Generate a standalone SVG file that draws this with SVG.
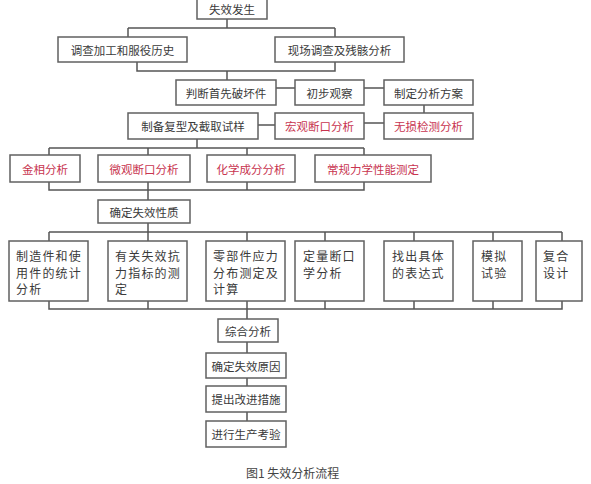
<svg xmlns="http://www.w3.org/2000/svg" width="591" height="484" viewBox="0 0 591 484">
<style>
rect.b{fill:#fff;stroke:#606060;stroke-width:1.5}
text{font-family:"Noto Sans CJK SC","Noto Sans",sans-serif;font-size:11.5px;fill:#3a3a3a;dominant-baseline:central}
text.c{text-anchor:middle}
text.r{fill:#c8344f}
text.m{font-size:12px;letter-spacing:1.2px}
.cn{fill:none;stroke:#555;stroke-width:1.5}
</style>
<rect width="591" height="484" fill="#fff"/>
<g id="connectors" class="cn">
<path d="M227 19V28M128 28H335M128 28V37M335 28V37"/>
<path d="M137 62V71H335V62M227 71V80"/>
<path d="M276 88H295M364 88H384M424 105V113M258 125H275M364 123H384"/>
<path d="M197 139V148M49 148H364M49 148V155M148 148V155M247 148V155M364 148V155"/>
<path d="M49 182V190H364V182M148 182V190M247 182V190M148 190V200"/>
<path d="M148 223V232M49 232H562M49 232V241M148 232V241M247 232V241M325 232V241M414 232V241M493 232V241M562 232V241"/>
<path d="M49 301V309H562V301M148 301V309M247 301V309M325 301V309M414 301V309M493 301V309"/>
<path d="M247 309V319M247 342V353M247 378V386M247 412V421"/>
</g>
<g id="n1"><rect class="b" x="197" y="-2" width="70" height="21"/><text class="c" x="232" y="8.5">失效发生</text></g>
<g id="n2"><rect class="b" x="58" y="37" width="129" height="25"/><text class="c" x="122.5" y="49.5">调查加工和服役历史</text></g>
<g id="n3"><rect class="b" x="275" y="37" width="129" height="25"/><text class="c" x="339.5" y="49.5">现场调查及残骸分析</text></g>
<g id="n4"><rect class="b" x="176" y="80" width="100" height="25"/><text class="c" x="226" y="92.5">判断首先破坏件</text></g>
<g id="n5"><rect class="b" x="295" y="80" width="69" height="25"/><text class="c" x="329.5" y="92.5">初步观察</text></g>
<g id="n6"><rect class="b" x="384" y="80" width="89" height="25"/><text class="c" x="428.5" y="92.5">制定分析方案</text></g>
<g id="n7"><rect class="b" x="128" y="113" width="130" height="26"/><text class="c" x="193" y="126">制备复型及截取试样</text></g>
<g id="n8"><rect class="b" x="275" y="113" width="89" height="26"/><text class="c r" x="319.5" y="126">宏观断口分析</text></g>
<g id="n9"><rect class="b" x="384" y="113" width="89" height="26"/><text class="c r" x="428.5" y="126">无损检测分析</text></g>
<g id="n10"><rect class="b" x="10" y="155" width="70" height="27"/><text class="c r" x="45" y="168.5">金相分析</text></g>
<g id="n11"><rect class="b" x="98" y="155" width="92" height="27"/><text class="c r" x="144" y="168.5">微观断口分析</text></g>
<g id="n12"><rect class="b" x="207" y="155" width="88" height="27"/><text class="c r" x="251" y="168.5">化学成分分析</text></g>
<g id="n13"><rect class="b" x="315" y="155" width="116" height="27"/><text class="c r" x="373" y="168.5">常规力学性能测定</text></g>
<g id="n14"><rect class="b" x="98" y="200" width="92" height="23"/><text class="c" x="144" y="211.5">确定失效性质</text></g>
<g id="n15"><rect class="b" x="9" y="241" width="79" height="60"/><text class="m" x="16" y="255">制造件和使</text><text class="m" x="16" y="272">用件的统计</text><text class="m" x="16" y="288">分析</text></g>
<g id="n16"><rect class="b" x="108" y="241" width="79" height="60"/><text class="m" x="115" y="255">有关失效抗</text><text class="m" x="115" y="272">力指标的测</text><text class="m" x="115" y="288">定</text></g>
<g id="n17"><rect class="b" x="206" y="241" width="79" height="60"/><text class="m" x="213" y="255">零部件应力</text><text class="m" x="213" y="272">分布测定及</text><text class="m" x="213" y="288">计算</text></g>
<g id="n18"><rect class="b" x="295" y="241" width="69" height="60"/><text class="m" x="303" y="255">定量断口</text><text class="m" x="303" y="272">学分析</text></g>
<g id="n19"><rect class="b" x="384" y="241" width="69" height="60"/><text class="m" x="392" y="255">找出具体</text><text class="m" x="392" y="272">的表达式</text></g>
<g id="n20"><rect class="b" x="473" y="241" width="49" height="60"/><text class="m" x="481" y="255">模拟</text><text class="m" x="481" y="272">试验</text></g>
<g id="n21"><rect class="b" x="536" y="241" width="46" height="60"/><text class="m" x="543" y="255">复合</text><text class="m" x="543" y="272">设计</text></g>
<g id="n22"><rect class="b" x="218" y="319" width="60" height="23"/><text class="c" x="248" y="330.5">综合分析</text></g>
<g id="n23"><rect class="b" x="206" y="353" width="80" height="25"/><text class="c" x="246" y="365.5">确定失效原因</text></g>
<g id="n24"><rect class="b" x="206" y="386" width="80" height="26"/><text class="c" x="246" y="399">提出改进措施</text></g>
<g id="n25"><rect class="b" x="206" y="421" width="80" height="26"/><text class="c" x="246" y="434">进行生产考验</text></g>
<text x="246" y="472" style="font-size:12px;fill:#444">图1 失效分析流程</text>
</svg>
